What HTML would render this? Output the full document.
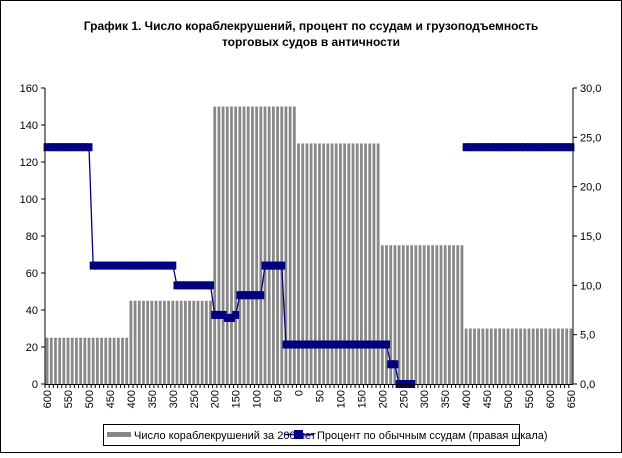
<!DOCTYPE html>
<html><head><meta charset="utf-8"><style>
body{margin:0;background:#fff;font-family:"Liberation Sans",Arial,sans-serif}
</style></head><body>
<svg id="c" width="622" height="453" xmlns="http://www.w3.org/2000/svg" font-family="Liberation Sans, Arial, sans-serif">
<rect x="0.5" y="0.5" width="621" height="452" fill="#fff" stroke="#000"/>
<text x="311" y="30" text-anchor="middle" font-size="12" font-weight="bold">График 1. Число кораблекрушений, процент по ссудам и грузоподъемность</text>
<text x="311" y="46" text-anchor="middle" font-size="12" font-weight="bold">торговых судов в античности</text>
<g id="bars"></g><g id="line"></g><g id="axes"></g>
<g>
<rect x="103.5" y="424.5" width="416" height="21" fill="#fff" stroke="#000"/>
<rect x="107" y="432" width="24" height="5" fill="#888"/>
<text x="134" y="439" font-size="11">Число кораблекрушений за 200 лет</text>
<line x1="284" y1="434.5" x2="314" y2="434.5" stroke="#000080" stroke-width="1.5"/>
<rect x="294" y="430" width="9" height="9" fill="#000080"/>
<text x="317" y="439" font-size="11">Процент по обычным ссудам (правая шкала)</text>
</g>
</svg>
<script>
// categories: 600 BC .. 0 .. 650 AD step 10
const categories = [];
for (let v = 600; v >= 0; v -= 10) categories.push(v);
for (let v = 10; v <= 650; v += 10) categories.push(v);
const shipwreckBlocks = [[600,400,25,'bc'],[400,200,45,'bc'],[200,0,150,'bc'],[0,200,130,'ad'],[200,400,75,'ad'],[400,650,30,'ad']];
const rateSegments = [
 {from:0,to:10,value:24},{from:11,to:30,value:12},{from:31,to:39,value:10},
 {from:40,to:42,value:7},{from:43,to:44,value:6.7},{from:45,to:45,value:7},
 {from:46,to:51,value:9},{from:52,to:56,value:12},{from:57,to:81,value:4},
 {from:82,to:83,value:2},{from:84,to:87,value:0},{from:100,to:125,value:24}];
const leftTicks = [0,20,40,60,80,100,120,140,160];
const rightTicks = ["0,0","5,0","10,0","15,0","20,0","25,0","30,0"];

const X0=45,X1=573,Y0=384,Y1=88,N=categories.length,cw=(X1-X0)/N;
const xc=i=>X0+(i+0.5)*cw, yL=v=>Y0-(v/160)*(Y0-Y1), yR=v=>Y0-(v/30)*(Y0-Y1);
const NS="http://www.w3.org/2000/svg";
function mk(t,a,p){const e=document.createElementNS(NS,t);for(const k in a)e.setAttribute(k,a[k]);p.appendChild(e);return e;}
// shipwreck values per category
const shipwrecks = categories.map((c,i)=>{
  const bc = i<=60;
  for(const [a,b,v,era] of shipwreckBlocks){
    if(era==='bc'&&bc&&c<=a&&c>b) return v;
    if(era==='ad'&&(!bc||c===0)&&c>=a&&c<b) return v;
  }
  return 30;
});
const bars=document.getElementById('bars');
shipwrecks.forEach((v,i)=>{
  const r=mk('rect',{x:xc(i)-1.4,y:yL(v),width:2.8,height:Y0-yL(v),fill:'#888'},bars);
  
  
});
// line
const rate = new Array(N).fill(null);
rateSegments.forEach(s=>{for(let i=s.from;i<=s.to;i++)rate[i]=s.value;});
const lg=document.getElementById('line');
let d='',pen=false;
rate.forEach((v,i)=>{if(v===null){pen=false;return;}d+=(pen?'L':'M')+xc(i)+' '+yR(v);pen=true;});
const pl=mk('path',{d:d,fill:'none',stroke:'#000080','stroke-width':1.3},lg);


rate.forEach((v,i)=>{if(v===null)return;
  const m=mk('rect',{x:xc(i)-3.5,y:yR(v)-4,width:7,height:8,fill:'#000080'},lg);
  
  
});
// axes
const ax=document.getElementById('axes');
mk('line',{x1:X0,y1:Y1,x2:X0,y2:Y0,stroke:'#000'},ax);
mk('line',{x1:X1,y1:Y1,x2:X1,y2:Y0,stroke:'#000'},ax);
mk('line',{x1:X0,y1:Y0+0.5,x2:X1,y2:Y0+0.5,stroke:'#000'},ax);
leftTicks.forEach(v=>{const y=yL(v);
  mk('line',{x1:X0-4,y1:y,x2:X0,y2:y,stroke:'#000'},ax);
  const t=mk('text',{x:X0-7,y:y+4,'text-anchor':'end','font-size':11},ax);t.textContent=v;
  
  
});
rightTicks.forEach((s,k)=>{const y=yR(k*5);
  mk('line',{x1:X1,y1:y,x2:X1+4,y2:y,stroke:'#000'},ax);
  const t=mk('text',{x:X1+7,y:y+4,'font-size':11},ax);t.textContent=s;
  
  
});
categories.forEach((c,i)=>{const x=X0+i*cw;
  mk('line',{x1:x,y1:Y0,x2:x,y2:Y0+4,stroke:'#000'},ax);
  if(c%50===0){
    const t=mk('text',{x:0,y:0,'text-anchor':'end','font-size':11,transform:`translate(${xc(i)+4},${Y0+6}) rotate(-90)`},ax);
    t.textContent=c;
    
    
  }
});
</script>
</body></html>
